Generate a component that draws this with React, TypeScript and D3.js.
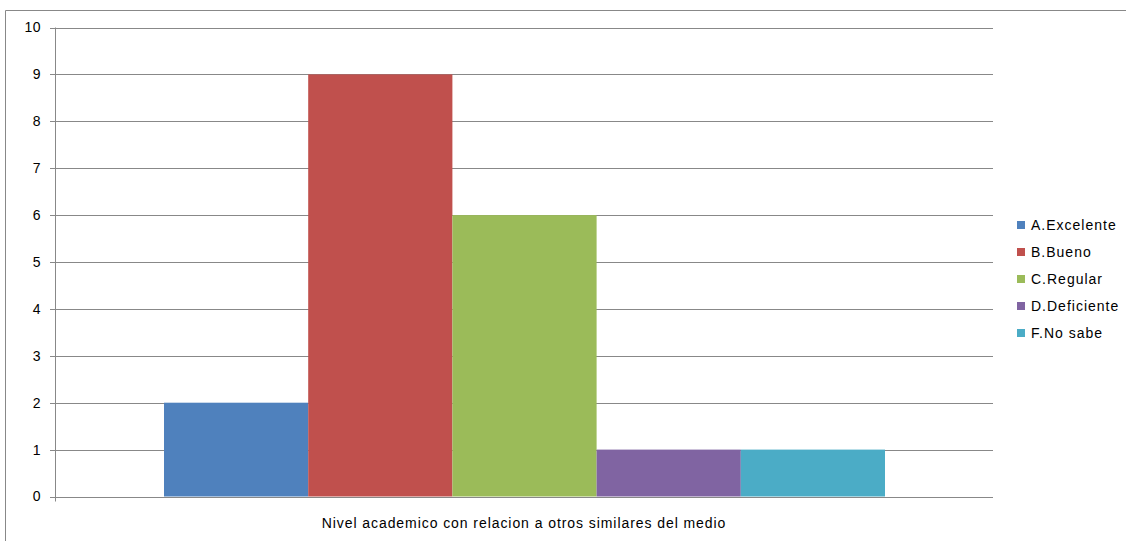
import React from "react";
import * as d3 from "d3";

const categories = ["A.Excelente", "B.Bueno", "C.Regular", "D.Deficiente", "F.No sabe"];
const values = [2, 9, 6, 1, 1];
const colors = ["#4F81BD", "#C0504D", "#9BBB59", "#8064A2", "#4BACC6"];
const yTicks = [0, 1, 2, 3, 4, 5, 6, 7, 8, 9, 10];
const axisTitle = "Nivel academico con relacion a otros similares del medio";

export default function App() {
  const left = 55, right = 993, top = 27.5, bottom = 496.5;
  const y = d3.scaleLinear().domain([0, 10]).range([bottom, top]);
  const x = d3.scaleBand().domain(categories).range([164, 885]).padding(0);
  const font = "Liberation Sans, Arial, sans-serif";
  return (
    <svg width={1126} height={541} style={{ position: "absolute", left: 0, top: 0 }} fontFamily={font}>
      <rect x={0} y={0} width={1126} height={541} fill="#fff" />
      <path d="M5.5,541 V10.5 H1126" fill="none" stroke="#888" />
      {yTicks.map((t) => (
        <g key={t}>
          <line x1={left - 5} x2={right} y1={Math.round(y(t)) + 0.5} y2={Math.round(y(t)) + 0.5} stroke="#888" />
          <text x={left - 14} y={y(t)} dy="0.35em" textAnchor="end" fontSize={14} letterSpacing={0.5} fill="#000">{t}</text>
        </g>
      ))}
      <line x1={left + 0.5} x2={left + 0.5} y1={top} y2={bottom + 5} stroke="#888" />
      {categories.map((c, i) => (
        <rect key={c} x={x(c)} y={y(values[i])} width={x.bandwidth()} height={bottom - y(values[i])} fill={colors[i]} />
      ))}
      <text x={524} y={528} textAnchor="middle" fontSize={14} letterSpacing={0.93} fill="#000">{axisTitle}</text>
      {categories.map((c, i) => (
        <g key={c} transform={`translate(1017,${225 + i * 27})`}>
          <rect x={0} y={-4} width={8} height={8} fill={colors[i]} />
          <text x={14} y={0} dy="0.35em" fontSize={14} letterSpacing={1} fill="#000">{c}</text>
        </g>
      ))}
    </svg>
  );
}
